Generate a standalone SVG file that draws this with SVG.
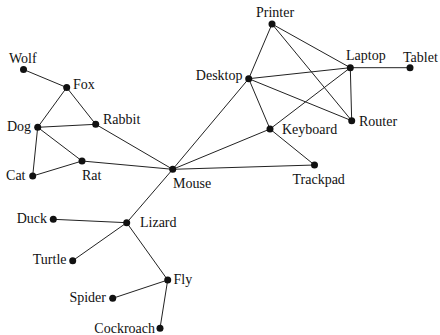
<svg xmlns="http://www.w3.org/2000/svg" width="440" height="335" viewBox="0 0 440 335" font-family="Liberation Serif, Times New Roman, serif" font-size="14">
<style>
.e{stroke:#222;stroke-width:1;fill:none}
.n{fill:#111}
text{font-family:'Liberation Serif','Times New Roman',Times,serif;font-size:14px;fill:#111}
.r{text-anchor:end}
</style>
<rect width="440" height="335" fill="#fff"/>
<g id="edges">
<line class="e" x1="23.5" y1="69.5" x2="66.7" y2="87.5"/>
<line class="e" x1="66.7" y1="87.5" x2="37.7" y2="127.3"/>
<line class="e" x1="66.7" y1="87.5" x2="95.7" y2="124.3"/>
<line class="e" x1="37.7" y1="127.3" x2="95.7" y2="124.3"/>
<line class="e" x1="37.7" y1="127.3" x2="32.7" y2="176"/>
<line class="e" x1="37.7" y1="127.3" x2="82" y2="161"/>
<line class="e" x1="32.7" y1="176" x2="82" y2="161"/>
<line class="e" x1="95.7" y1="124.3" x2="172.7" y2="169.3"/>
<line class="e" x1="82" y1="161" x2="172.7" y2="169.3"/>
<line class="e" x1="172.7" y1="169.3" x2="248.7" y2="78.7"/>
<line class="e" x1="172.7" y1="169.3" x2="270" y2="129"/>
<line class="e" x1="172.7" y1="169.3" x2="314.5" y2="165"/>
<line class="e" x1="172.7" y1="169.3" x2="126.7" y2="222.7"/>
<line class="e" x1="270" y1="129" x2="314.5" y2="165"/>
<line class="e" x1="248.7" y1="78.7" x2="270" y2="129"/>
<line class="e" x1="248.7" y1="78.7" x2="272" y2="24"/>
<line class="e" x1="248.7" y1="78.7" x2="350.3" y2="67.7"/>
<line class="e" x1="248.7" y1="78.7" x2="351.7" y2="120.7"/>
<line class="e" x1="272" y1="24" x2="350.3" y2="67.7"/>
<line class="e" x1="272" y1="24" x2="351.7" y2="120.7"/>
<line class="e" x1="270" y1="129" x2="350.3" y2="67.7"/>
<line class="e" x1="350.3" y1="67.7" x2="351.7" y2="120.7"/>
<line class="e" x1="350.3" y1="67.7" x2="410" y2="67.7"/>
<line class="e" x1="126.7" y1="222.7" x2="53.3" y2="219.3"/>
<line class="e" x1="126.7" y1="222.7" x2="72.7" y2="260.7"/>
<line class="e" x1="126.7" y1="222.7" x2="167.7" y2="280"/>
<line class="e" x1="167.7" y1="280" x2="112.7" y2="298.3"/>
<line class="e" x1="167.7" y1="280" x2="160" y2="328.3"/>
</g>
<g id="wolf"><circle class="n" cx="23.5" cy="69.5" r="3.5"/><text x="9" y="63">Wolf</text></g>
<g id="fox"><circle class="n" cx="66.7" cy="87.5" r="3.5"/><text x="73" y="89">Fox</text></g>
<g id="dog"><circle class="n" cx="37.7" cy="127.3" r="3.5"/><text class="r" x="31" y="131">Dog</text></g>
<g id="rabbit"><circle class="n" cx="95.7" cy="124.3" r="3.5"/><text x="103" y="124">Rabbit</text></g>
<g id="cat"><circle class="n" cx="32.7" cy="176" r="3.5"/><text class="r" x="25.5" y="180">Cat</text></g>
<g id="rat"><circle class="n" cx="82" cy="161" r="3.5"/><text x="82" y="179.5">Rat</text></g>
<g id="mouse"><circle class="n" cx="172.7" cy="169.3" r="3.5"/><text x="173" y="187.5">Mouse</text></g>
<g id="desktop"><circle class="n" cx="248.7" cy="78.7" r="3.5"/><text class="r" x="242.5" y="80">Desktop</text></g>
<g id="printer"><circle class="n" cx="272" cy="24" r="3.5"/><text x="256" y="17">Printer</text></g>
<g id="laptop"><circle class="n" cx="350.3" cy="67.7" r="3.5"/><text x="346" y="59.5">Laptop</text></g>
<g id="tablet"><circle class="n" cx="410" cy="67.7" r="3.5"/><text x="403" y="61.5">Tablet</text></g>
<g id="router"><circle class="n" cx="351.7" cy="120.7" r="3.5"/><text x="359" y="125.5">Router</text></g>
<g id="keyboard"><circle class="n" cx="270" cy="129" r="3.5"/><text x="282" y="133.5">Keyboard</text></g>
<g id="trackpad"><circle class="n" cx="314.5" cy="165" r="3.5"/><text x="292.5" y="183.5">Trackpad</text></g>
<g id="lizard"><circle class="n" cx="126.7" cy="222.7" r="3.5"/><text x="140" y="226.5">Lizard</text></g>
<g id="duck"><circle class="n" cx="53.3" cy="219.3" r="3.5"/><text class="r" x="47" y="223">Duck</text></g>
<g id="turtle"><circle class="n" cx="72.7" cy="260.7" r="3.5"/><text class="r" x="66.5" y="264">Turtle</text></g>
<g id="fly"><circle class="n" cx="167.7" cy="280" r="3.5"/><text x="173.5" y="284">Fly</text></g>
<g id="spider"><circle class="n" cx="112.7" cy="298.3" r="3.5"/><text class="r" x="106" y="301.5">Spider</text></g>
<g id="cockroach"><circle class="n" cx="160" cy="328.3" r="3.5"/><text class="r" x="155" y="333">Cockroach</text></g>
</svg>
